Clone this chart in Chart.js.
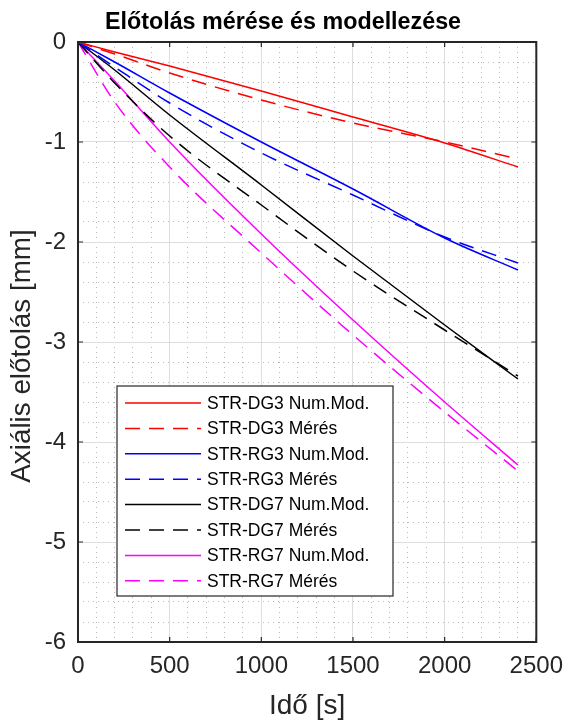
<!DOCTYPE html>
<html>
<head>
<meta charset="utf-8">
<script src="https://cdn.jsdelivr.net/npm/chart.js@4"></script>
<style>
  body { margin: 0; background: #fff; }
  #wrap { width: 573px; height: 721px; }
</style>
</head>
<body>
<div id="wrap"><canvas id="chart" width="573" height="721"></canvas></div>
<script>
// time points [s]
const timeS = [0, 200, 500, 1000, 1500, 2000, 2400];

// axial displacement [mm]
const dg3Num = [0, -0.10, -0.24, -0.49, -0.75, -1.01, -1.25];
const dg3Meas = [0, -0.12, -0.31, -0.58, -0.81, -1.00, -1.17];
const rg3Num = [0, -0.20, -0.51, -1.00, -1.47, -1.96, -2.28];
const rg3Meas = [0, -0.25, -0.61, -1.11, -1.53, -1.95, -2.21];
const dg7Num = [0, -0.28, -0.73, -1.43, -2.14, -2.83, -3.37];
const dg7Meas = [0, -0.41, -0.94, -1.63, -2.29, -2.88, -3.34];
const rg7Num = [0, -0.39, -1.00, -1.92, -2.78, -3.60, -4.23];
const rg7Meas = [0, -0.60, -1.25, -2.11, -2.93, -3.70, -4.29];

const seriesLabels = [
    "STR-DG3 Num.Mod.", "STR-DG3 Mérés",
    "STR-RG3 Num.Mod.", "STR-RG3 Mérés",
    "STR-DG7 Num.Mod.", "STR-DG7 Mérés",
    "STR-RG7 Num.Mod.", "STR-RG7 Mérés"
];
const seriesValues = [dg3Num, dg3Meas, rg3Num, rg3Meas, dg7Num, dg7Meas, rg7Num, rg7Meas];
const seriesColors = ["#ff0000", "#ff0000", "#0000ff", "#0000ff", "#000000", "#000000", "#ff00ff", "#ff00ff"];

const titleText = "Előtolás mérése és modellezése";
const yTitleText = "Axiális előtolás [mm]";

const FONT = "'Liberation Sans', Arial, Helvetica, sans-serif";
const AXIS_COLOR = "#262626";
const DASH = [15, 9];

function toPoints(values) {
    return values.map((v, i) => ({ x: timeS[i], y: v }));
}

const datasets = seriesValues.map((vals, i) => ({
    label: seriesLabels[i],
    data: toPoints(vals),
    borderColor: seriesColors[i],
    borderWidth: 1.5,
    borderDash: i % 2 === 1 ? DASH : [],
    pointRadius: 0,
    fill: false,
    cubicInterpolationMode: 'monotone'
}));

// box around the axes with inward major ticks (MATLAB style)
const axesBox = {
    id: 'axesBox',
    afterDatasetsDraw(chart) {
        const { ctx, chartArea: a, scales } = chart;
        ctx.save();
        ctx.strokeStyle = AXIS_COLOR;
        ctx.lineWidth = 1.2;
        ctx.setLineDash([]);
        for (let t = 0; t <= 2500; t += 500) {
            const px = scales.x.getPixelForValue(t);
            ctx.beginPath();
            ctx.moveTo(px, a.bottom); ctx.lineTo(px, a.bottom - 5);
            ctx.moveTo(px, a.top); ctx.lineTo(px, a.top + 5);
            ctx.stroke();
        }
        for (let v = 0; v >= -6; v--) {
            const py = scales.y.getPixelForValue(v);
            ctx.beginPath();
            ctx.moveTo(a.left, py); ctx.lineTo(a.left + 5, py);
            ctx.moveTo(a.right, py); ctx.lineTo(a.right - 5, py);
            ctx.stroke();
        }
        ctx.lineWidth = 2;
        ctx.strokeRect(a.left, a.top, a.right - a.left, a.bottom - a.top);
        ctx.restore();
    }
};

// title and y axis label, placed where the reference has them
const texts = {
    id: 'texts',
    afterDraw(chart) {
        const ctx = chart.ctx;
        ctx.save();
        ctx.fillStyle = "#000";
        ctx.font = "bold 23.3px " + FONT;
        ctx.textAlign = "center";
        ctx.textBaseline = "middle";
        ctx.fillText(titleText, 283, 23);

        ctx.fillStyle = AXIS_COLOR;
        ctx.font = "27.8px " + FONT;
        ctx.translate(22, 356);
        ctx.rotate(-Math.PI / 2);
        ctx.fillText(yTitleText, 0, 0);
        ctx.restore();
    }
};

// legend box inside the plot
const insideLegend = {
    id: 'insideLegend',
    afterDraw(chart) {
        const ctx = chart.ctx;
        const bx = 117, by = 386, bw = 276, bh = 210;
        ctx.save();
        ctx.fillStyle = "#fff";
        ctx.fillRect(bx, by, bw, bh);
        ctx.strokeStyle = AXIS_COLOR;
        ctx.lineWidth = 1.2;
        ctx.strokeRect(bx, by, bw, bh);
        ctx.font = "17.5px " + FONT;
        ctx.textBaseline = "middle";
        chart.data.datasets.forEach((ds, i) => {
            const y = 403 + i * 25.4;
            ctx.strokeStyle = ds.borderColor;
            ctx.lineWidth = 1.5;
            ctx.setLineDash(ds.borderDash);
            ctx.beginPath();
            ctx.moveTo(125, y); ctx.lineTo(201, y);
            ctx.stroke();
            ctx.setLineDash([]);
            ctx.fillStyle = "#000";
            ctx.fillText(ds.label, 207, y + 1);
        });
        ctx.restore();
    }
};

function isMajor(v, step) {
    return Math.abs(v / step - Math.round(v / step)) < 1e-6;
}

const chart = new Chart(document.getElementById('chart').getContext('2d'), {
    type: 'line',
    data: { datasets: datasets },
    plugins: [axesBox, texts, insideLegend],
    options: {
        responsive: false,
        animation: false,
        layout: { padding: { left: 0, right: 30, top: 42, bottom: 0 } },
        plugins: {
            legend: { display: false },
            tooltip: { enabled: false },
            title: { display: false }
        },
        scales: {
            x: {
                type: 'linear',
                min: 0,
                max: 2500,
                afterFit: s => { s.height = 79; },
                ticks: {
                    stepSize: 100,
                    autoSkip: false,
                    maxRotation: 0,
                    padding: 10,
                    color: AXIS_COLOR,
                    font: { family: FONT, size: 24 },
                    callback: v => isMajor(v, 500) ? String(v) : ''
                },
                grid: {
                    drawTicks: false,
                    lineWidth: 1,
                    color: c => isMajor(c.tick.value, 500) ? "#dedede" : "#b8b8b8"
                },
                border: {
                    display: false,
                    dash: c => isMajor(c.tick.value, 500) ? [] : [1, 4]
                },
                title: {
                    display: true,
                    text: "Idő [s]",
                    color: AXIS_COLOR,
                    font: { family: FONT, size: 28 },
                    padding: { top: 0, bottom: -2 }
                }
            },
            y: {
                type: 'linear',
                min: -6,
                max: 0,
                afterFit: s => { s.width = 78; },
                ticks: {
                    stepSize: 0.2,
                    autoSkip: false,
                    padding: 12,
                    color: AXIS_COLOR,
                    font: { family: FONT, size: 24 },
                    callback: v => isMajor(v, 1) ? String(Math.round(v)) : ''
                },
                grid: {
                    drawTicks: false,
                    lineWidth: 1,
                    color: c => isMajor(c.tick.value, 1) ? "#dedede" : "#b8b8b8"
                },
                border: {
                    display: false,
                    dash: c => isMajor(c.tick.value, 1) ? [] : [1, 4]
                }
            }
        }
    }
});
</script>
</body>
</html>
